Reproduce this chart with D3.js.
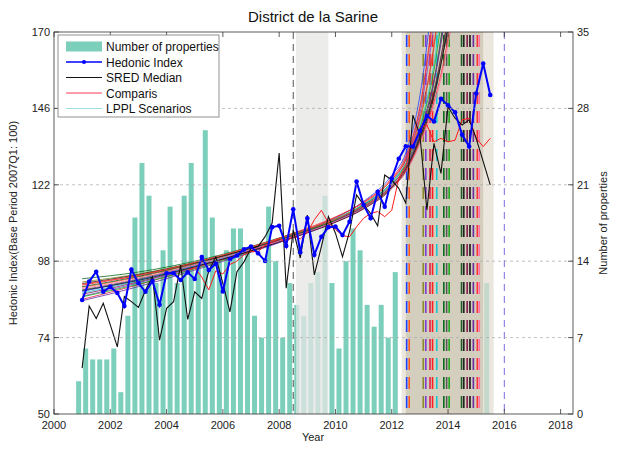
<!DOCTYPE html>
<html><head><meta charset="utf-8">
<script src="https://cdn.jsdelivr.net/npm/d3@7"></script>
<style>
body{margin:0;background:#fff}
text{font-family:"Liberation Sans",Arial,Helvetica,sans-serif}
</style>
</head><body>
<svg id="chart" width="622" height="450"></svg>
<script>
// Quarterly observations, 2001Q1 .. 2015Q3
const quarters = d3.range(59).map(k => 2001 + k / 4);

const hedonicIndex = [
  85.8, 91.6, 94.7, 88.4, 90.0, 88.0, 83.9, 95.4, 91.1, 88.4,
  91.8, 84.3, 94.2, 94.2, 92.1, 94.5, 92.4, 99.3, 95.2, 97.3,
  88.5, 98.6, 99.8, 101.7, 102.6, 100.5, 98.1, 108.7, 109.1, 102.8,
  114.3, 100.8, 111.5, 100.0, 105.7, 108.7, 108.9, 106.2, 110.4, 123.0,
  115.7, 111.5, 119.8, 115.1, 124.0, 130.2, 134.1, 134.0, 138.9, 143.7,
  141.9, 149.0, 147.0, 144.8, 137.7, 134.0, 150.7, 160.1, 150.2
];

const sredMedian = [
  64.4, 83.9, 80.0, 84.8, 78.0, 71.1, 86.9, 85.3, 83.5, 88.9,
  93.1, 73.2, 83.2, 85.3, 96.8, 79.7, 88.4, 86.3, 95.0, 99.4,
  91.0, 82.1, 94.7, 97.8, 102.0, 102.6, 105.7, 110.0, 132.0, 89.5,
  107.8, 99.0, 112.5, 93.7, 102.6, 112.0, 106.8, 99.4, 107.3, 118.8,
  115.7, 113.0, 109.1, 125.1, 123.5, 120.9, 116.2, 143.9, 137.7, 114.1,
  135.0, 125.6, 146.5, 142.9, 140.8, 142.4, 136.6, 129.3, 122.0
];

// Comparis series starts in 2004Q4 (index 15)
const comparisStart = 15;
const comparis = [
  95.0, 96.0, 93.0, 89.0, 95.0, 94.0, 97.0, 98.0, 100.0, 101.0,
  101.0, 103.0, 104.0, 105.0, 104.0, 106.0, 105.0, 107.0, 111.0, 114.0,
  110.0, 108.0, 106.0, 105.7, 108.8, 111.5, 113.0, 113.6, 112.0, 114.0,
  124.0, 128.0, 134.5, 139.8, 140.8, 135.5, 136.6, 135.5, 136.0, 142.4,
  142.9, 136.6, 134.0, 136.6
];

// Number of properties per quarter (null where hidden by the critical-time window)
const propertyCounts = [
  3, 6, 5, 5, 5, 6, 2, 9, 18, 23,
  20, 12, 15, 19, 12, 20, 23, 14, 26, 18,
  14, 15, 17, 17, 15, 9, 7, 19, 14, 7,
  12, 10, 9, 12, 13, 20, 12, 6, 14, 17,
  15, 10, 8, 10, 7, 13, null, null, null, null,
  null, null, null, null, null, null, null, null, 12
];

// LPPL scenario paths, sampled at these years
const lpplYears = [2001, 2003, 2005, 2007, 2008.5, 2010, 2011, 2012, 2012.5, 2013, 2013.5, 2014, 2014.5];
const lpplValues = [
  [88.5, 92.2, 96.6, 101.6, 106.0, 111.6, 116.8, 125.0, 132.0, 150.0, 185],
  [89.8, 93.0, 97.2, 102.0, 106.3, 111.2, 116.0, 123.8, 130.5, 146.0, 176],
  [91.5, 94.0, 97.6, 102.2, 106.5, 111.4, 115.8, 122.8, 129.0, 142.0, 165.0, 200],
  [87.0, 91.2, 96.0, 101.2, 105.6, 110.8, 115.6, 123.0, 130.0, 144.5, 172],
  [86.0, 90.6, 95.8, 101.4, 106.2, 111.8, 116.6, 124.2, 131.0, 146.5, 178],
  [90.5, 93.5, 97.4, 102.3, 106.8, 111.9, 116.4, 123.6, 129.8, 143.0, 166.0, 205],
  [88.0, 91.8, 96.4, 101.8, 106.4, 111.3, 115.9, 122.9, 128.8, 140.5, 160.0, 195],
  [92.5, 94.6, 98.0, 102.6, 106.7, 111.0, 115.0, 121.4, 127.0, 137.5, 154.0, 185],
  [89.0, 92.4, 96.9, 101.9, 106.1, 110.9, 115.2, 121.8, 127.5, 138.0, 155.0, 182],
  [86.8, 90.8, 95.6, 101.0, 105.7, 111.0, 115.6, 122.4, 128.4, 139.6, 158.0, 190],
  [90.0, 93.2, 97.3, 102.1, 106.2, 110.7, 114.8, 121.0, 126.5, 136.5, 151.0, 175],
  [91.0, 93.8, 97.5, 102.0, 105.9, 110.4, 114.5, 120.8, 126.2, 135.8, 149.5, 172],
  [87.6, 91.5, 96.2, 101.3, 105.5, 110.2, 114.4, 121.0, 126.8, 137.0, 151.5, 174],
  [88.8, 92.0, 96.3, 101.2, 105.4, 110.3, 114.6, 121.2, 126.9, 136.8, 150.5, 171],
  [85.6, 90.0, 95.2, 100.8, 105.4, 110.6, 115.2, 122.0, 127.8, 138.5, 154.5, 180],
  [90.8, 93.6, 97.6, 102.5, 106.6, 111.2, 115.3, 121.5, 126.6, 135.5, 148.0, 168.0, 200],
  [89.4, 92.6, 96.8, 101.7, 105.8, 110.5, 114.7, 120.9, 126.0, 134.8, 147.0, 166.0, 195]
];
// Critical time of each scenario
const lpplCriticalTimes = [
  2012.53, 2012.62, 2013.12, 2013.21, 2013.36, 2013.45, 2013.60, 2013.85, 2013.95,
  2014.04, 2014.48, 2014.56, 2014.68, 2014.78, 2014.90, 2015.04, 2015.11
];
const lpplColors = [
  "#1f3fff", "#ff5a1f", "#8a8a2a", "#7a3fd6", "#e0204a", "#ff2020", "#18c8d0", "#0b6b1e",
  "#555555", "#1aa61a", "#1d5a24", "#202020", "#8b1f4d", "#151515", "#6a2aa0", "#ff3535", "#ff6fa8"
];

// Shaded windows
const fitWindowStart = 2008.5;
const fitWindowBand = [2008.6, 2009.75];
const criticalBandOuter = [2012.35, 2015.62];
const criticalBandInner = [2012.5, 2015.25];
const forecastMark = 2016;

const xTicks = d3.range(2000, 2019, 2);
const leftTicks = [50, 74, 98, 122, 146, 170];
const rightTicks = [0, 7, 14, 21, 28, 35];

const svg = d3.select("#chart");
const L = 54, R = 573, T = 32, B = 414;

const x = d3.scaleLinear().domain([2000, 2018.44]).range([L, R]);
const yL = d3.scaleLinear().domain([50, 170]).range([B, T]);
const yR = d3.scaleLinear().domain([0, 35]).range([B, T]);

svg.append("defs").append("clipPath").attr("id", "plot")
  .append("rect").attr("x", L).attr("y", T).attr("width", R - L).attr("height", B - T);

const plot = svg.append("g").attr("clip-path", "url(#plot)");

// Bars (right axis)
const barOffset = 0.125, barW = 5;
plot.append("g").selectAll("rect")
  .data(quarters.map((t, i) => ({t, v: propertyCounts[i]})).filter(d => d.v != null))
  .join("rect")
  .attr("x", d => x(d.t - barOffset) - barW / 2)
  .attr("y", d => yR(d.v))
  .attr("width", barW)
  .attr("height", d => yR(0) - yR(d.v))
  .attr("fill", "#7ccfbb");

// Shaded windows
plot.append("rect")
  .attr("x", x(fitWindowBand[0])).attr("width", x(fitWindowBand[1]) - x(fitWindowBand[0]))
  .attr("y", T).attr("height", B - T).attr("fill", "#e6e6e4").attr("opacity", 0.75);
plot.append("rect")
  .attr("x", x(criticalBandOuter[0])).attr("width", x(criticalBandOuter[1]) - x(criticalBandOuter[0]))
  .attr("y", T).attr("height", B - T).attr("fill", "#e2ddd2").attr("opacity", 0.7);
plot.append("rect")
  .attr("x", x(criticalBandInner[0])).attr("width", x(criticalBandInner[1]) - x(criticalBandInner[0]))
  .attr("y", T).attr("height", B - T).attr("fill", "#d3ccbc").attr("opacity", 0.95);

// Horizontal grid
const grid = svg.append("g");
grid.selectAll("line").data(leftTicks.slice(1, -1)).join("line")
  .attr("x1", L).attr("x2", R).attr("y1", d => yL(d)).attr("y2", d => yL(d))
  .attr("stroke", "#a8a8a8").attr("stroke-width", 0.7).attr("stroke-dasharray", "3,3");

// Vertical markers
plot.append("line").attr("x1", x(fitWindowStart)).attr("x2", x(fitWindowStart))
  .attr("y1", T).attr("y2", B).attr("stroke", "#555").attr("stroke-width", 1).attr("stroke-dasharray", "7,5");
plot.append("line").attr("x1", x(forecastMark)).attr("x2", x(forecastMark))
  .attr("y1", T).attr("y2", B).attr("stroke", "#7a6ee0").attr("stroke-width", 1).attr("stroke-dasharray", "7,5");

plot.append("g").selectAll("line").data(lpplCriticalTimes).join("line")
  .attr("x1", d => x(d)).attr("x2", d => x(d)).attr("y1", T + 3).attr("y2", B)
  .attr("stroke", (d, i) => lpplColors[i]).attr("stroke-width", 1.6)
  .attr("stroke-dasharray", "12,7");

// LPPL scenarios
const lineL = d3.line().x(d => x(d[0])).y(d => yL(d[1])).curve(d3.curveMonotoneX);
plot.append("g").selectAll("path").data(lpplValues).join("path")
  .attr("d", vals => lineL(vals.map((v, i) => [lpplYears[i], v])))
  .attr("fill", "none").attr("stroke", (d, i) => lpplColors[i]).attr("stroke-width", 0.8);

const straight = d3.line().x(d => x(d[0])).y(d => yL(d[1]));

plot.append("path")
  .attr("d", straight(comparis.map((v, i) => [quarters[comparisStart + i], v])))
  .attr("fill", "none").attr("stroke", "#ff1a1a").attr("stroke-width", 1);

plot.append("path")
  .attr("d", straight(sredMedian.map((v, i) => [quarters[i], v])))
  .attr("fill", "none").attr("stroke", "#111").attr("stroke-width", 1.1);

plot.append("path")
  .attr("d", straight(hedonicIndex.map((v, i) => [quarters[i], v])))
  .attr("fill", "none").attr("stroke", "#0000ff").attr("stroke-width", 2);
plot.append("g").selectAll("circle").data(hedonicIndex).join("circle")
  .attr("cx", (d, i) => x(quarters[i])).attr("cy", d => yL(d)).attr("r", 2.3).attr("fill", "#0000ff");

// Axes box
svg.append("rect").attr("x", L).attr("y", T).attr("width", R - L).attr("height", B - T)
  .attr("fill", "none").attr("stroke", "#333").attr("stroke-width", 0.8);

const tickLen = 5;
const axes = svg.append("g").attr("stroke", "#333").attr("stroke-width", 0.8);
xTicks.forEach(t => {
  axes.append("line").attr("x1", x(t)).attr("x2", x(t)).attr("y1", B).attr("y2", B - tickLen);
  axes.append("line").attr("x1", x(t)).attr("x2", x(t)).attr("y1", T).attr("y2", T + tickLen);
});
leftTicks.forEach(v => {
  axes.append("line").attr("x1", L).attr("x2", L + tickLen).attr("y1", yL(v)).attr("y2", yL(v));
});
rightTicks.forEach(v => {
  axes.append("line").attr("x1", R).attr("x2", R - tickLen).attr("y1", yR(v)).attr("y2", yR(v));
});

const labels = svg.append("g").attr("font-size", 11).attr("fill", "#222");
labels.selectAll(".xt").data(xTicks).join("text").attr("class", "xt")
  .attr("x", d => x(d)).attr("y", B + 15).attr("text-anchor", "middle").text(d => d);
labels.selectAll(".yl").data(leftTicks).join("text").attr("class", "yl")
  .attr("x", L - 4).attr("y", d => yL(d) + 4).attr("text-anchor", "end").text(d => d);
labels.selectAll(".yr").data(rightTicks).join("text").attr("class", "yr")
  .attr("x", R + 4).attr("y", d => yR(d) + 4).attr("text-anchor", "start").text(d => d);

svg.append("text").attr("x", 313).attr("y", 22).attr("text-anchor", "middle")
  .attr("font-size", 15).attr("fill", "#111").text("District de la Sarine");
svg.append("text").attr("x", 313).attr("y", 441).attr("text-anchor", "middle")
  .attr("font-size", 11).attr("fill", "#222").text("Year");
svg.append("text").attr("transform", `translate(17,${(T + B) / 2}) rotate(-90)`)
  .attr("text-anchor", "middle").attr("font-size", 11).attr("fill", "#222")
  .text("Hedonic Index(Base Period 2007Q1: 100)");
svg.append("text").attr("transform", `translate(607,${(T + B) / 2}) rotate(-90)`)
  .attr("text-anchor", "middle").attr("font-size", 11).attr("fill", "#222")
  .text("Number of properties");

// Legend
const lg = svg.append("g");
lg.append("rect").attr("x", 58).attr("y", 35).attr("width", 161).attr("height", 82)
  .attr("fill", "#fff").attr("stroke", "#777").attr("stroke-width", 0.8);
const items = [
  {label: "Number of properties", kind: "bar", color: "#7ccfbb"},
  {label: "Hedonic Index", kind: "marker", color: "#0000ff"},
  {label: "SRED Median", kind: "line", color: "#111"},
  {label: "Comparis", kind: "line", color: "#ff3a5a"},
  {label: "LPPL Scenarios", kind: "line", color: "#9fe0e6"}
];
items.forEach((d, i) => {
  const yy = 46.5 + i * 15.5;
  if (d.kind === "bar") {
    lg.append("rect").attr("x", 66).attr("y", yy - 5).attr("width", 36).attr("height", 10).attr("fill", d.color);
  } else {
    lg.append("line").attr("x1", 66).attr("x2", 102).attr("y1", yy).attr("y2", yy)
      .attr("stroke", d.color).attr("stroke-width", d.kind === "marker" ? 1.5 : 1.2);
    if (d.kind === "marker") lg.append("circle").attr("cx", 84).attr("cy", yy).attr("r", 2).attr("fill", d.color);
  }
  lg.append("text").attr("x", 106).attr("y", yy + 4.5).attr("font-size", 12).attr("fill", "#111").text(d.label);
});
</script>
</body></html>
